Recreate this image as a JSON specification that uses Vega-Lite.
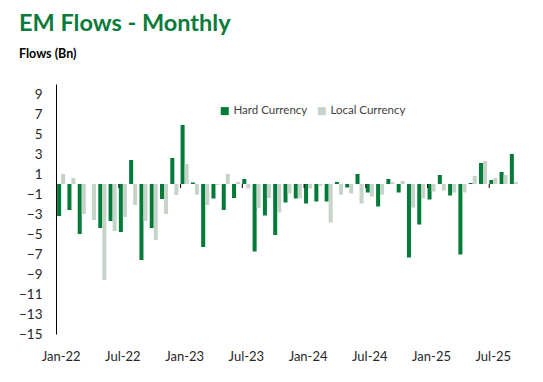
{
  "$schema": "https://vega.github.io/schema/vega-lite/v6.json",
  "autosize": {"type": "none"},
  "width": 463,
  "height": 250,
  "padding": {"left": 56, "top": 84, "right": 24, "bottom": 48},
  "background": "white",
  "title": {
    "text": "EM Flows - Monthly",
    "subtitle": "Flows (Bn)",
    "anchor": "start",
    "frame": "group",
    "dx": -37,
    "offset": 24,
    "font": "Lato",
    "fontSize": 23.5,
    "fontWeight": "bold",
    "color": "#0A7B3A",
    "subtitleFont": "Lato",
    "subtitleFontSize": 12.5,
    "subtitleFontWeight": "bold",
    "subtitleColor": "#000000",
    "subtitlePadding": 12
  },
  "config": {
    "view": {"stroke": null},
    "font": "Lato",
    "axis": {"labelOverlap": false}
  },
  "datasets": {
    "flows": [
      {"month": "Jan-22", "Hard Currency": -3.2, "Local Currency": 1.0},
      {"month": "Feb-22", "Hard Currency": -2.6, "Local Currency": 0.6},
      {"month": "Mar-22", "Hard Currency": -5.0, "Local Currency": -3.0},
      {"month": "Apr-22", "Hard Currency": 0, "Local Currency": -3.6},
      {"month": "May-22", "Hard Currency": -4.4, "Local Currency": -9.6},
      {"month": "Jun-22", "Hard Currency": -3.7, "Local Currency": -4.7},
      {"month": "Jul-22", "Hard Currency": -4.8, "Local Currency": -3.3},
      {"month": "Aug-22", "Hard Currency": 2.4, "Local Currency": -2.1},
      {"month": "Sep-22", "Hard Currency": -7.6, "Local Currency": -3.7},
      {"month": "Oct-22", "Hard Currency": -4.4, "Local Currency": -5.6},
      {"month": "Nov-22", "Hard Currency": -1.5, "Local Currency": -3.0},
      {"month": "Dec-22", "Hard Currency": 2.6, "Local Currency": -1.1},
      {"month": "Jan-23", "Hard Currency": 5.9, "Local Currency": 2.0},
      {"month": "Feb-23", "Hard Currency": 0.15, "Local Currency": -1.05},
      {"month": "Mar-23", "Hard Currency": -6.3, "Local Currency": -2.1},
      {"month": "Apr-23", "Hard Currency": -1.45, "Local Currency": -0.1},
      {"month": "May-23", "Hard Currency": -2.6, "Local Currency": 1.0},
      {"month": "Jun-23", "Hard Currency": -1.4, "Local Currency": 0.2},
      {"month": "Jul-23", "Hard Currency": 0.5, "Local Currency": -0.45},
      {"month": "Aug-23", "Hard Currency": -6.75, "Local Currency": -2.4},
      {"month": "Sep-23", "Hard Currency": -3.15, "Local Currency": -1.4},
      {"month": "Oct-23", "Hard Currency": -5.1, "Local Currency": -2.85},
      {"month": "Nov-23", "Hard Currency": -1.85, "Local Currency": -0.95},
      {"month": "Dec-23", "Hard Currency": -1.45, "Local Currency": -1.45},
      {"month": "Jan-24", "Hard Currency": -1.95, "Local Currency": -0.45},
      {"month": "Feb-24", "Hard Currency": -1.75, "Local Currency": -0.2},
      {"month": "Mar-24", "Hard Currency": -1.75, "Local Currency": -3.85},
      {"month": "Apr-24", "Hard Currency": 0.2, "Local Currency": -1.05},
      {"month": "May-24", "Hard Currency": -0.35, "Local Currency": -0.95},
      {"month": "Jun-24", "Hard Currency": 1.0, "Local Currency": -1.95},
      {"month": "Jul-24", "Hard Currency": -0.85, "Local Currency": -1.25},
      {"month": "Aug-24", "Hard Currency": -2.25, "Local Currency": -1.05},
      {"month": "Sep-24", "Hard Currency": 0.5, "Local Currency": 0.2},
      {"month": "Oct-24", "Hard Currency": -0.85, "Local Currency": 0.3},
      {"month": "Nov-24", "Hard Currency": -7.35, "Local Currency": -2.35},
      {"month": "Dec-24", "Hard Currency": -4.05, "Local Currency": -1.45},
      {"month": "Jan-25", "Hard Currency": -1.55, "Local Currency": -0.75},
      {"month": "Feb-25", "Hard Currency": 0.9, "Local Currency": -0.65},
      {"month": "Mar-25", "Hard Currency": -1.15, "Local Currency": -0.85},
      {"month": "Apr-25", "Hard Currency": -7.05, "Local Currency": -0.85},
      {"month": "May-25", "Hard Currency": 0.1, "Local Currency": 0.8},
      {"month": "Jun-25", "Hard Currency": 2.1, "Local Currency": 2.3},
      {"month": "Jul-25", "Hard Currency": 0.4, "Local Currency": 0.6},
      {"month": "Aug-25", "Hard Currency": 1.2, "Local Currency": 0.9},
      {"month": "Sep-25", "Hard Currency": 3.0, "Local Currency": 0.2}
    ],
    "ticks": [
      {"month": "Jul-22"}, {"month": "Jan-23"}, {"month": "Jul-23"}, {"month": "Jan-24"},
      {"month": "Jul-24"}, {"month": "Jan-25"}, {"month": "Jul-25"}
    ]
  },
  "layer": [
    {
      "data": {"name": "flows"},
      "transform": [
        {"fold": ["Hard Currency", "Local Currency"], "as": ["series", "value"]}
      ],
      "mark": {"type": "bar"},
      "encoding": {
        "x": {
          "field": "month",
          "type": "nominal",
          "sort": null,
          "scale": {
            "domain": ["Jan-22","Feb-22","Mar-22","Apr-22","May-22","Jun-22","Jul-22","Aug-22","Sep-22","Oct-22","Nov-22","Dec-22","Jan-23","Feb-23","Mar-23","Apr-23","May-23","Jun-23","Jul-23","Aug-23","Sep-23","Oct-23","Nov-23","Dec-23","Jan-24","Feb-24","Mar-24","Apr-24","May-24","Jun-24","Jul-24","Aug-24","Sep-24","Oct-24","Nov-24","Dec-24","Jan-25","Feb-25","Mar-25","Apr-25","May-25","Jun-25","Jul-25","Aug-25","Sep-25"],
            "paddingInner": 0.22,
            "paddingOuter": 0.11
          },
          "axis": {
            "title": null,
            "values": ["Jan-22","Jul-22","Jan-23","Jul-23","Jan-24","Jul-24","Jan-25","Jul-25"],
            "labelAngle": 0,
            "domain": false,
            "ticks": false,
            "tickSize": 0,
            "grid": false,
            "labelPadding": 16,
            "labelOverlap": false,
            "labelFont": "Lato",
            "labelFontSize": 13,
            "labelColor": "#262626"
          }
        },
        "xOffset": {
          "field": "series",
          "type": "nominal",
          "scale": {"domain": ["Hard Currency", "Local Currency"], "paddingInner": 0, "paddingOuter": 0}
        },
        "y": {
          "field": "value",
          "type": "quantitative",
          "scale": {"domain": [-15, 10], "nice": false, "zero": false},
          "axis": {
            "title": null,
            "values": [-15, -13, -11, -9, -7, -5, -3, -1, 1, 3, 5, 7, 9],
            "tickCount": 13,
            "grid": false,
            "ticks": false,
            "tickSize": 0,
            "domain": true,
            "domainColor": "#000000",
            "domainWidth": 1,
            "labelPadding": 14,
            "labelOverlap": false,
            "labelFont": "Lato",
            "labelFontSize": 13.5,
            "labelColor": "#262626"
          }
        },
        "color": {
          "field": "series",
          "type": "nominal",
          "scale": {"domain": ["Hard Currency", "Local Currency"], "range": ["#037B38", "#C5D3C8"]},
          "legend": {
            "title": null,
            "orient": "none",
            "direction": "horizontal",
            "legendX": 163,
            "legendY": 21,
            "symbolType": "square",
            "symbolSize": 64,
            "symbolStrokeWidth": 0,
            "labelFont": "Lato",
            "labelFontSize": 11.5,
            "labelColor": "#404040",
            "labelOffset": 3,
            "columnPadding": 8,
            "padding": 0
          }
        }
      }
    },
    {
      "mark": {"type": "rule", "color": "#000000", "strokeWidth": 1.2},
      "encoding": {"y": {"datum": 0}}
    },
    {
      "data": {"name": "ticks"},
      "mark": {"type": "rule", "color": "#000000", "strokeWidth": 1},
      "encoding": {
        "x": {"field": "month", "type": "nominal", "bandPosition": 0},
        "y": {"datum": 0},
        "y2": {"datum": -0.4}
      }
    }
  ]
}
